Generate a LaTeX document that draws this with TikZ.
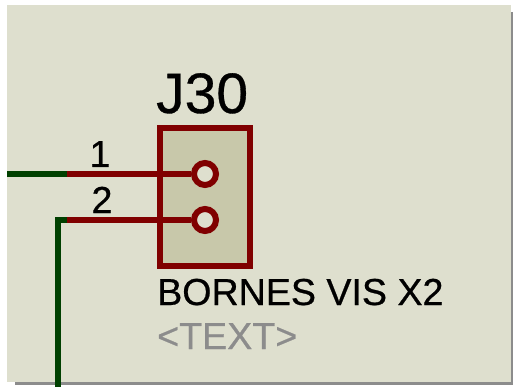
\documentclass[tikz,border=0pt]{standalone}
\usepackage{fontspec}
\setmainfont[FakeBold=0.6]{Liberation Sans}
\definecolor{sheet}{HTML}{DEDFCE}
\definecolor{body}{HTML}{C8C8AA}
\definecolor{pinred}{HTML}{800000}
\definecolor{netgreen}{HTML}{004000}
\definecolor{greytext}{HTML}{8C8C8C}
\tikzset{
    pin/.style = {draw = pinred, line width = 6pt, fill = sheet, circle, minimum size = 22pt, inner sep = 0pt},
    pinwire/.style = {pinred, line width = 6pt},
    netwire/.style = {netgreen, line width = 6pt},
    label/.style = {inner sep = 0pt, font = \fontsize{37.6}{38}\selectfont}
}
\begin{document}
\begin{tikzpicture}[x = 1pt, y = -1pt]
        \useasboundingbox (0,0) rectangle (513,387);
        \fill [black!45] (15,12) rectangle (513,385);
        \fill [sheet] (7,5) rectangle (511,382);

        \draw [fill = body, draw = pinred, line width = 6pt] (160,128) rectangle (250,266);

        \coordinate (net1) at (7,174);
        \coordinate (end1) at (67,174);
        \coordinate (net2) at (58,384);
        \coordinate (corner2) at (58,220);
        \coordinate (end2) at (67,220);

        \node (pin1) at (205,174) [pin] {};
        \node (pin2) at (205,220) [pin] {};

        \draw [netwire] (net1) -- (end1);
        \draw [netwire, line cap = rect] (net2) -- (corner2) -- (end2);
        \draw [pinwire] (end1) -- (pin1);
        \draw [pinwire] (end2) -- (pin2);

        \node (ref) at (156,113) [anchor = base west, inner sep = 0pt, font = \fontsize{57}{57}\selectfont] {J30};
        \node (num1) at (100,167) [anchor = base, label] {1};
        \node (num2) at (102,213) [anchor = base, label] {2};
        \node (value) at (157,305) [anchor = base west, label] {BORNES VIS X2};
        \node (text) at (157,349) [anchor = base west, label, text = greytext] {<TEXT>};
    \end{tikzpicture}
\end{document}
